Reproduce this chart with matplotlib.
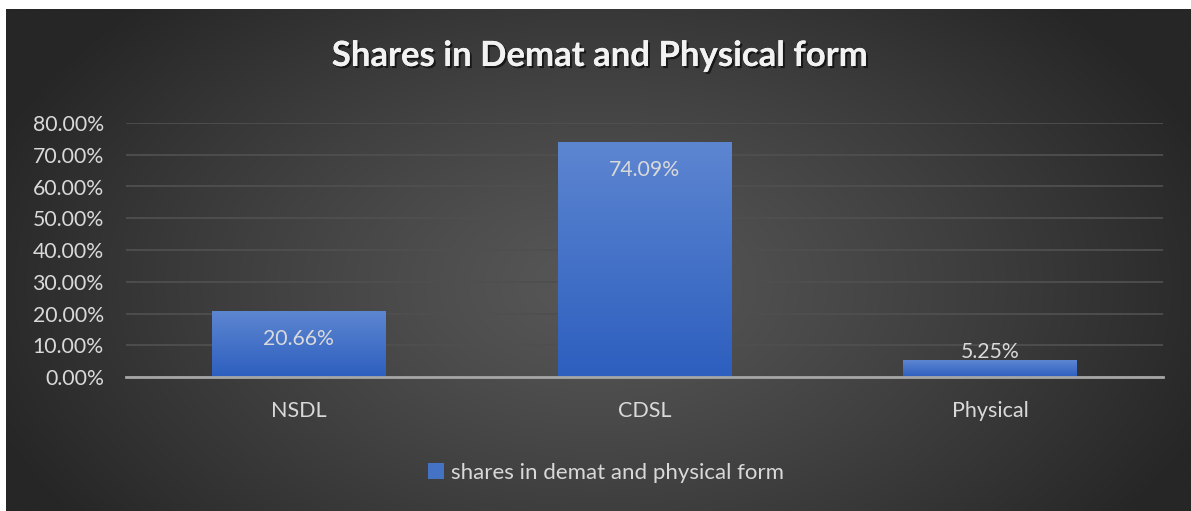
import numpy as np
import matplotlib
matplotlib.use('Agg')
import matplotlib.pyplot as plt
from matplotlib.colors import LinearSegmentedColormap
import matplotlib.patheffects as pe
from matplotlib.patches import Patch

categories = ['NSDL', 'CDSL', 'Physical']
values = [20.66, 74.09, 5.25]
series_name = 'shares in demat and physical form'
title = 'Shares in Demat and Physical form'
yticks = [0, 10, 20, 30, 40, 50, 60, 70, 80]

plt.rcParams['font.family'] = ['Lato', 'DejaVu Sans']

W, H = 1191, 511
fig = plt.figure(figsize=(W / 100, H / 100), dpi=100, facecolor='white')

# dark radial-gradient chart area
bg = fig.add_axes([6 / W, 0, 1 - 6 / W, (H - 9) / H])
ny, nx = 300, 700
yy, xx = np.mgrid[0:1:ny * 1j, 0:1:nx * 1j]
r = np.clip(np.sqrt(((xx - 0.5) / 0.55) ** 2 + ((yy - 0.55) / 0.8) ** 2), 0, 1)
c0, c1 = 0x57 / 255, 0x26 / 255
img = c0 + (c1 - c0) * r ** 1.2
bg.imshow(np.dstack([img, img, img]), aspect='auto', extent=[0, 1, 0, 1], origin='upper')
bg.set_axis_off()

ax = fig.add_axes([126 / W, (H - 377) / H, (1163 - 126) / W, (377 - 123) / H])
ax.set_facecolor('none')
x = np.arange(len(categories))
bars = ax.bar(x, values, width=0.503, color='#4472c4', zorder=3)
ax.set_xlim(-0.5, len(categories) - 0.5)
ax.set_ylim(0, 80)

cmap = LinearSegmentedColormap.from_list('g', ['#2d5fbf', '#5d86d1'])
grad = np.linspace(1, 0, 100).reshape(-1, 1)
for b in bars:
    bx, bw, bh = b.get_x(), b.get_width(), b.get_height()
    im = ax.imshow(grad, cmap=cmap, aspect='auto', extent=[bx, bx + bw, 0, bh],
                   zorder=4, interpolation='bicubic')
    im.set_clip_path(b)
ax.set_xlim(-0.5, len(categories) - 0.5)
ax.set_ylim(0, 80)

# data labels
for b, v in zip(bars, values):
    cx = b.get_x() + b.get_width() / 2
    off = -28 if v > 15 else 8
    ax.annotate(f'{v:.2f}%', (cx, v), xytext=(0, off), textcoords='offset pixels',
                ha='center', va='center', color='#d9d9d9', fontsize=15.3, zorder=6)

ax.set_yticks(yticks)
ax.set_yticklabels([f'{t:.2f}%' for t in yticks])
ax.set_xticks(x)
ax.set_xticklabels(categories)
ax.tick_params(axis='both', length=0, colors='#d9d9d9')
ax.tick_params(axis='y', pad=16, labelsize=15.3)
ax.tick_params(axis='x', pad=17, labelsize=15.5)
ax.yaxis.grid(True, color='#4f4f4f', linewidth=1.3, zorder=0)
ax.set_axisbelow(True)
for s in ['top', 'right', 'left']:
    ax.spines[s].set_visible(False)
ax.spines['bottom'].set_color('#a6a6a6')
ax.spines['bottom'].set_linewidth(2)
ax.spines['bottom'].set_zorder(5)

t = fig.text(600 / W, 1 - 56 / H, title, ha='center', va='center', fontsize=25,
             fontweight='bold', color='#f2f2f2')
t.set_path_effects([pe.withSimplePatchShadow(offset=(1.5, -1.5), shadow_rgbFace='black', alpha=0.6),
                    pe.Normal()])

fig.legend(handles=[Patch(facecolor='#4472c4', label=series_name)], loc='center',
           bbox_to_anchor=(606 / W, 1 - 473 / H), frameon=False, fontsize=16,
           labelcolor='#d9d9d9', handlelength=0.7, handleheight=0.7, handletextpad=0.3)

fig.savefig('out.png', dpi=100, facecolor='white')
